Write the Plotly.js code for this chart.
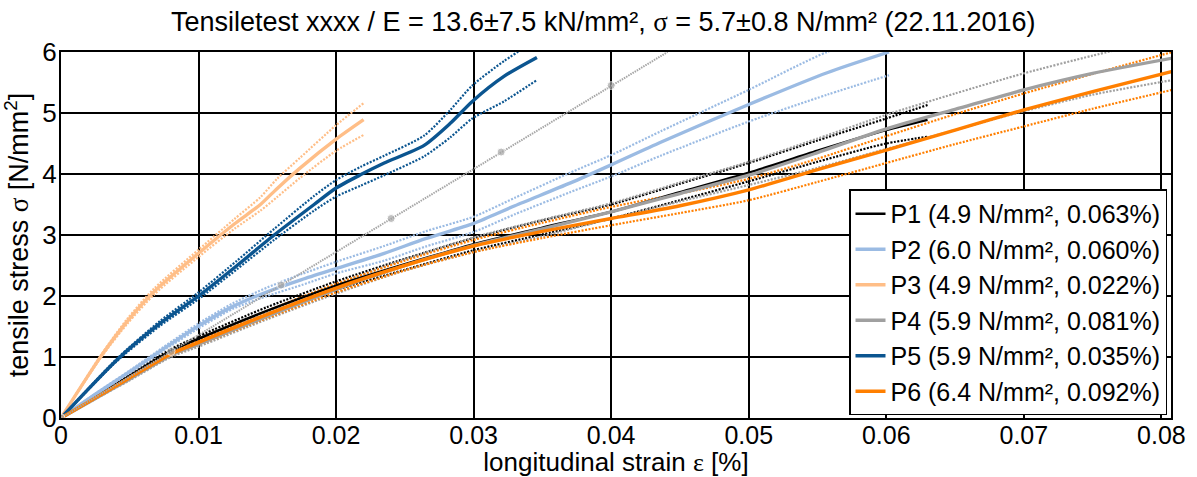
<!DOCTYPE html>
<html>
<head>
<meta charset="utf-8">
<script src="https://cdn.plot.ly/plotly-3.0.1.min.js"></script>
<style>html,body{margin:0;padding:0;background:#fff;}#chart{width:1197px;height:477px;}</style>
</head>
<body>
<div id="chart"></div>
<script>
// ---- data (strain in %, stress in N/mm²) ----
const seriesNames = ["P1 (4.9 N/mm², 0.063%)", "P2 (6.0 N/mm², 0.060%)", "P3 (4.9 N/mm², 0.022%)",
                     "P4 (5.9 N/mm², 0.081%)", "P5 (5.9 N/mm², 0.035%)", "P6 (6.4 N/mm², 0.092%)"];
const seriesColors = ["#000000", "#9BBBE3", "#FFBE87", "#A0A0A0", "#0B5590", "#FF7F00"];

const p1Strain = [0, 0.0025, 0.005, 0.008, 0.01, 0.015, 0.02, 0.025, 0.03, 0.035, 0.04, 0.045, 0.05, 0.055, 0.06, 0.063];
const p1Mean   = [0, 0.34, 0.69, 1.10, 1.30, 1.76, 2.17, 2.52, 2.85, 3.12, 3.38, 3.70, 4.02, 4.38, 4.72, 4.89];
const p1Upper  = [0, 0.35, 0.71, 1.13, 1.34, 1.82, 2.24, 2.61, 2.95, 3.24, 3.50, 3.84, 4.18, 4.55, 4.91, 5.13];
const p1Lower  = [0, 0.33, 0.67, 1.07, 1.26, 1.70, 2.10, 2.43, 2.75, 3.01, 3.27, 3.57, 3.88, 4.20, 4.50, 4.61];

const p2Strain = [0, 0.0025, 0.005, 0.0075, 0.01, 0.0125, 0.015, 0.0175, 0.02, 0.0235, 0.0265, 0.03, 0.033, 0.037, 0.04, 0.0436, 0.05, 0.0557, 0.0602];
const p2Mean   = [0, 0.39, 0.76, 1.14, 1.51, 1.83, 2.07, 2.27, 2.45, 2.70, 2.94, 3.19, 3.48, 3.85, 4.15, 4.52, 5.14, 5.66, 6.00];
const p2Upper  = [0, 0.40, 0.78, 1.17, 1.55, 1.88, 2.14, 2.36, 2.56, 2.82, 3.06, 3.30, 3.61, 4.02, 4.31, 4.70, 5.38, 6.00, 6.30];
const p2Lower  = [0, 0.38, 0.74, 1.11, 1.47, 1.79, 2.00, 2.18, 2.37, 2.58, 2.81, 3.05, 3.34, 3.70, 3.96, 4.30, 4.86, 5.30, 5.62];

const p3Strain = [0, 0.0029, 0.0048, 0.0068, 0.01, 0.0126, 0.0145, 0.0157, 0.0174, 0.02, 0.022];
const p3Mean   = [0, 1.01, 1.58, 2.08, 2.70, 3.18, 3.50, 3.76, 4.10, 4.57, 4.89];
const p3Upper  = [0, 1.03, 1.62, 2.13, 2.76, 3.26, 3.62, 3.92, 4.27, 4.80, 5.16];
const p3Lower  = [0, 0.99, 1.54, 2.03, 2.64, 3.10, 3.40, 3.62, 3.94, 4.38, 4.64];

const p4Strain = [0, 0.0025, 0.005, 0.008, 0.01, 0.015, 0.02, 0.025, 0.03, 0.035, 0.04, 0.045, 0.05, 0.055, 0.06, 0.065, 0.07, 0.075, 0.0808];
const p4Mean   = [0, 0.32, 0.64, 1.03, 1.21, 1.67, 2.11, 2.50, 2.83, 3.10, 3.38, 3.68, 3.98, 4.35, 4.74, 5.06, 5.38, 5.65, 5.90];
const p4Upper  = [0, 0.33, 0.66, 1.06, 1.25, 1.73, 2.19, 2.60, 2.96, 3.25, 3.52, 3.86, 4.20, 4.58, 4.97, 5.32, 5.65, 5.94, 6.25];
const p4Lower  = [0, 0.31, 0.62, 1.00, 1.17, 1.62, 2.04, 2.42, 2.72, 2.98, 3.27, 3.55, 3.82, 4.10, 4.41, 4.72, 5.03, 5.30, 5.54];

const p5Strain = [0, 0.0041, 0.0072, 0.01, 0.0128, 0.0155, 0.0184, 0.02, 0.0218, 0.0235, 0.0264, 0.0283, 0.0299, 0.0322, 0.0346];
const p5Mean   = [0, 0.96, 1.55, 2.00, 2.50, 3.00, 3.50, 3.77, 3.99, 4.18, 4.47, 4.83, 5.19, 5.60, 5.91];
const p5Upper  = [0, 0.98, 1.59, 2.06, 2.58, 3.10, 3.64, 3.90, 4.12, 4.30, 4.63, 5.05, 5.45, 5.85, 6.20];
const p5Lower  = [0, 0.94, 1.51, 1.95, 2.44, 2.92, 3.40, 3.63, 3.81, 3.98, 4.29, 4.60, 4.91, 5.19, 5.54];

const p6Strain = [0, 0.0025, 0.005, 0.008, 0.01, 0.015, 0.02, 0.025, 0.03, 0.035, 0.04, 0.045, 0.05, 0.055, 0.06, 0.065, 0.07, 0.075, 0.0808];
const p6Mean   = [0, 0.33, 0.66, 1.05, 1.24, 1.70, 2.13, 2.50, 2.82, 3.06, 3.27, 3.48, 3.74, 4.07, 4.39, 4.72, 5.05, 5.35, 5.68];
const p6Upper  = [0, 0.34, 0.68, 1.08, 1.28, 1.76, 2.20, 2.58, 2.92, 3.20, 3.46, 3.68, 3.92, 4.25, 4.62, 4.98, 5.32, 5.64, 6.00];
const p6Lower  = [0, 0.32, 0.64, 1.02, 1.20, 1.64, 2.06, 2.42, 2.72, 2.95, 3.16, 3.36, 3.57, 3.87, 4.18, 4.49, 4.78, 5.07, 5.38];

// mean E-modulus line
const eStrain = [0, 0.008, 0.016, 0.024, 0.032, 0.040, 0.0441];
const eStress = [0, 1.09, 2.18, 3.27, 4.36, 5.45, 6.00];
const eMarkerSize = [8, 8, 8, 8, 8, 8, 0];

const xTickVals = [0, 0.01, 0.02, 0.03, 0.04, 0.05, 0.06, 0.07, 0.08];
const xTickText = ["0", "0.01", "0.02", "0.03", "0.04", "0.05", "0.06", "0.07", "0.08"];
const yTickVals = [0, 1, 2, 3, 4, 5, 6];

// ---- traces ----
const groups = [
  [p1Strain, p1Mean, p1Upper, p1Lower],
  [p2Strain, p2Mean, p2Upper, p2Lower],
  [p3Strain, p3Mean, p3Upper, p3Lower],
  [p4Strain, p4Mean, p4Upper, p4Lower],
  [p5Strain, p5Mean, p5Upper, p5Lower],
  [p6Strain, p6Mean, p6Upper, p6Lower]
];
const traces = [];
groups.forEach((g, i) => {
  const col = seriesColors[i];
  [g[2], g[3]].forEach(band => {
    traces.push({x: g[0], y: band, type: 'scatter', mode: 'lines', showlegend: false, hoverinfo: 'skip',
      line: {color: col, width: 2.2, dash: '2px,1.5px', shape: 'spline', smoothing: 0.7}});
  });
});
groups.forEach((g, i) => {
  traces.push({x: g[0], y: g[1], type: 'scatter', mode: 'lines', name: seriesNames[i],
    line: {color: seriesColors[i], width: i === 0 ? 2.6 : 3.4, shape: 'spline', smoothing: 0.7}});
});
traces.push({x: eStrain, y: eStress, type: 'scatter', mode: 'lines+markers', showlegend: false,
  line: {color: '#A6A6A6', width: 2, dash: '1.5px,1px'},
  marker: {color: '#A6A6A6', size: eMarkerSize}});

const fam = 'Liberation Sans, Arial, sans-serif';
const sym = '<span style="font-family:Liberation Serif">';
const layout = {
  width: 1197, height: 477,
  margin: {l: 61, r: 26, t: 52, b: 59},
  paper_bgcolor: '#fff', plot_bgcolor: '#fff',
  font: {family: fam, size: 26, color: '#000'},
  title: {text: 'Tensiletest xxxx / E = 13.6±7.5 kN/mm², ' + sym + 'σ</span> = 5.7±0.8 N/mm² (22.11.2016)',
    x: 0.504, xanchor: 'center', y: 0.955, yanchor: 'middle', yref: 'container',
    font: {family: fam, size: 27, color: '#000'}},
  xaxis: {range: [0, 0.0807], tickvals: xTickVals, ticktext: xTickText, showgrid: true, gridcolor: '#000', gridwidth: 2,
    showline: true, linecolor: '#000', linewidth: 2, mirror: true, zeroline: false, ticks: '',
    ticklabelstandoff: -6,
    tickfont: {family: fam, size: 25, color: '#000'},
    title: {text: 'longitudinal strain ' + sym + 'ε</span> [%]', font: {family: fam, size: 26, color: '#000'}, standoff: 8}},
  yaxis: {range: [0, 6], tickvals: yTickVals, showgrid: true, gridcolor: '#000', gridwidth: 2,
    showline: true, linecolor: '#000', linewidth: 2, mirror: true, zeroline: false, ticks: '',
    ticklabelstandoff: -3,
    tickfont: {family: fam, size: 26, color: '#000'},
    title: {text: 'tensile stress ' + sym + 'σ</span> [N/mm<sup>2</sup>]', font: {family: fam, size: 27, color: '#000'}, standoff: 8}},
  legend: {x: 0.9964, xanchor: 'right', y: 0.007, yanchor: 'bottom', bgcolor: '#fff', bordercolor: '#000', borderwidth: 1.5,
    font: {family: fam, size: 25, color: '#000'}, itemwidth: 30, tracegroupgap: 0},
  showlegend: true
};
Plotly.newPlot('chart', traces, layout, {displayModeBar: false, staticPlot: true});
</script>
</body>
</html>
